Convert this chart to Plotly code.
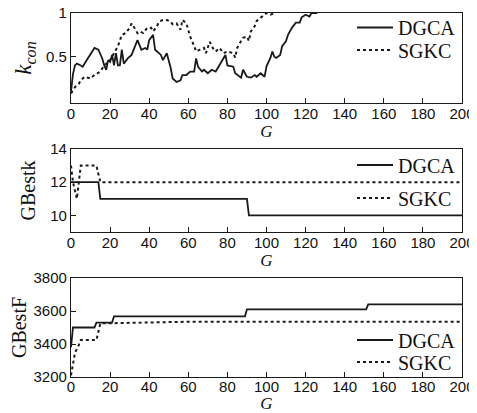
import plotly.graph_objects as go

# ---- data ----
g_dgca_k = [0, 1, 2, 3, 5, 6, 8, 10, 12, 14, 16, 17, 18, 19, 20, 21, 22, 23, 24, 25, 26, 27, 29, 31, 33, 34, 36, 38, 39, 40,
            42, 43, 45, 46, 47, 49, 51, 52, 54, 56, 57, 59, 61, 63, 64, 65, 67, 68, 70, 72, 74, 76, 79, 80, 83, 84, 85,
            87, 88, 90, 92, 94, 95, 97, 99, 100, 102, 103, 104, 105, 107, 108, 110, 111, 113, 115, 117, 118, 120, 122,
            123, 126]
kcon_dgca = [0.10, 0.30, 0.40, 0.42, 0.40, 0.385, 0.46, 0.53, 0.60, 0.58, 0.48, 0.40, 0.35, 0.46, 0.44, 0.52, 0.40, 0.54,
             0.40, 0.40, 0.58, 0.42, 0.48, 0.52, 0.65, 0.69, 0.58, 0.60, 0.58, 0.69, 0.75, 0.58, 0.54, 0.52, 0.46, 0.54,
             0.37, 0.25, 0.21, 0.23, 0.29, 0.29, 0.33, 0.33, 0.48, 0.385, 0.33, 0.35, 0.31, 0.35, 0.33, 0.40, 0.52, 0.40,
             0.385, 0.31, 0.29, 0.26, 0.35, 0.27, 0.26, 0.29, 0.27, 0.31, 0.27, 0.39, 0.485, 0.56, 0.50, 0.485, 0.52,
             0.62, 0.68, 0.75, 0.83, 0.89, 0.89, 0.95, 0.98, 0.96, 1.0, 1.0]

g_sgkc_k = [0, 2, 4, 5, 7, 10, 12, 15, 17, 20, 22, 24, 26, 28, 30, 31, 33, 34, 35, 37, 39, 41, 42, 44, 45, 47, 49, 51, 52,
            54, 56, 57, 59, 61, 63, 64, 66, 68, 69, 71, 73, 74, 76, 78, 80, 83, 84, 85, 87, 88, 90, 91, 92, 94, 95, 97,
            99, 100, 102, 104]
kcon_sgkc = [0.08, 0.15, 0.19, 0.23, 0.27, 0.25, 0.29, 0.33, 0.40, 0.46, 0.54, 0.62, 0.75, 0.77, 0.83, 0.88, 0.81, 0.77,
             0.79, 0.77, 0.83, 0.83, 0.79, 0.85, 0.90, 0.92, 0.92, 0.90, 0.87, 0.88, 0.81, 0.92, 0.88, 0.73, 0.62, 0.56,
             0.58, 0.60, 0.54, 0.67, 0.58, 0.56, 0.60, 0.54, 0.56, 0.54, 0.49, 0.60, 0.68, 0.715, 0.73, 0.68, 0.79, 0.85,
             0.91, 0.945, 0.98, 1.0, 0.98, 1.0]

g_dgca_bk = [0, 14, 15, 90, 91, 200]
bestk_dgca = [12, 12, 11, 11, 10, 10]
g_sgkc_bk = [0, 1, 3, 5, 13, 15, 200]
bestk_sgkc = [13, 12, 11, 13, 13, 12, 12]

g_dgca_bf = [0, 1, 12, 13, 21, 22, 89, 90, 151, 152, 200]
bestf_dgca = [3380, 3500, 3500, 3530, 3530, 3568, 3568, 3610, 3610, 3640, 3640]
g_sgkc_bf = [0, 1, 2, 4, 5, 13, 14, 15, 16, 60, 200]
bestf_sgkc = [3210, 3290, 3345, 3394, 3424, 3424, 3480, 3525, 3525, 3535, 3535]

x_ticks = [0, 20, 40, 60, 80, 100, 120, 140, 160, 180, 200]
names = ["DGCA", "SGKC"]

# ---- figure ----
LC = "#1a1a1a"
OFF = 8                      # page body margin offset
W, H = 477 - OFF, 413 - OFF
ML, MR, MT, MB = 71 - OFF, 15, 0, 36
PH = H - MT - MB
PW = W - ML - MR

def py(ypix):
    return (H - MB - (ypix - OFF)) / PH

def px(xpix):
    return ((xpix - OFF) - ML) / PW

fig = go.Figure()

def add(x, y, name, dash, xa, ya, leg):
    fig.add_trace(go.Scatter(x=x, y=y, mode="lines", name=name, xaxis=xa, yaxis=ya, legend=leg,
                             line=dict(color=LC, width=1.8 if dash == "solid" else 2.0, dash=dash)))

add(g_dgca_k, kcon_dgca, names[0], "solid", "x", "y", "legend")
add(g_sgkc_k, kcon_sgkc, names[1], "dot", "x", "y", "legend2")
add(g_dgca_bk, bestk_dgca, names[0], "solid", "x2", "y2", "legend3")
add(g_sgkc_bk, bestk_sgkc, names[1], "dot", "x2", "y2", "legend4")
add(g_dgca_bf, bestf_dgca, names[0], "solid", "x3", "y3", "legend5")
add(g_sgkc_bf, bestf_sgkc, names[1], "dot", "x3", "y3", "legend6")

tickfont = dict(family="Liberation Sans, Arial", size=15, color="#111")
gfont = dict(family="Liberation Serif, Times New Roman", size=17, color="#111")

def xax(anchor, lso=-3, tso=3):
    return dict(domain=[0, 1], anchor=anchor, range=[0, 200], tickvals=x_ticks, ticks="inside", ticklen=5,
                tickcolor=LC, showline=True, linecolor=LC, linewidth=1.2, mirror=True, showgrid=False,
                zeroline=False, tickfont=tickfont, automargin=False, ticklabelstandoff=lso,
                ticklabeloverflow="allow",
                title=dict(text="<i>G</i>", font=gfont, standoff=tso))

def yax(anchor, dom, rng, tv, title, size, so):
    return dict(domain=dom, anchor=anchor, range=rng, tickvals=tv, ticks="inside", ticklen=5, tickcolor=LC,
                showline=True, linecolor=LC, linewidth=1.2, mirror=True, showgrid=False, zeroline=False,
                tickfont=tickfont, automargin=False, ticklabeloverflow="allow",
                title=dict(text=title, font=dict(family="Liberation Serif, Times New Roman", size=size, color="#111"),
                           standoff=so))

legfont = dict(family="Liberation Serif, Times New Roman", size=20, color="#111")

def leg(ypix, anchor="middle"):
    return dict(font=legfont, bgcolor="rgba(0,0,0,0)", borderwidth=0, xanchor="left", yanchor=anchor,
                x=px(352), y=py(ypix), itemwidth=36)

fig.update_layout(
    width=W, height=H,
    margin=dict(l=ML, r=MR, t=MT, b=MB),
    paper_bgcolor="white", plot_bgcolor="white",
    showlegend=True,
    xaxis=xax("y"), yaxis=yax("x", [py(103), py(13)], [-0.03, 1.0], [0.5, 1], "<i>k<sub>con</sub></i>", 23, 7),
    xaxis2=xax("y2"), yaxis2=yax("x2", [py(232), py(149)], [9, 14], [10, 12, 14], "GBestk", 20, 9),
    xaxis3=xax("y3", -4, 5), yaxis3=yax("x3", [py(377), py(278)], [3200, 3800], [3200, 3400, 3600, 3800], "GBestF", 20, 9),
    legend=leg(OFF, "top"), legend2=leg(50),
    legend3=leg(165), legend4=leg(198),
    legend5=leg(340), legend6=leg(362),
)

fig.write_html("out.html")
